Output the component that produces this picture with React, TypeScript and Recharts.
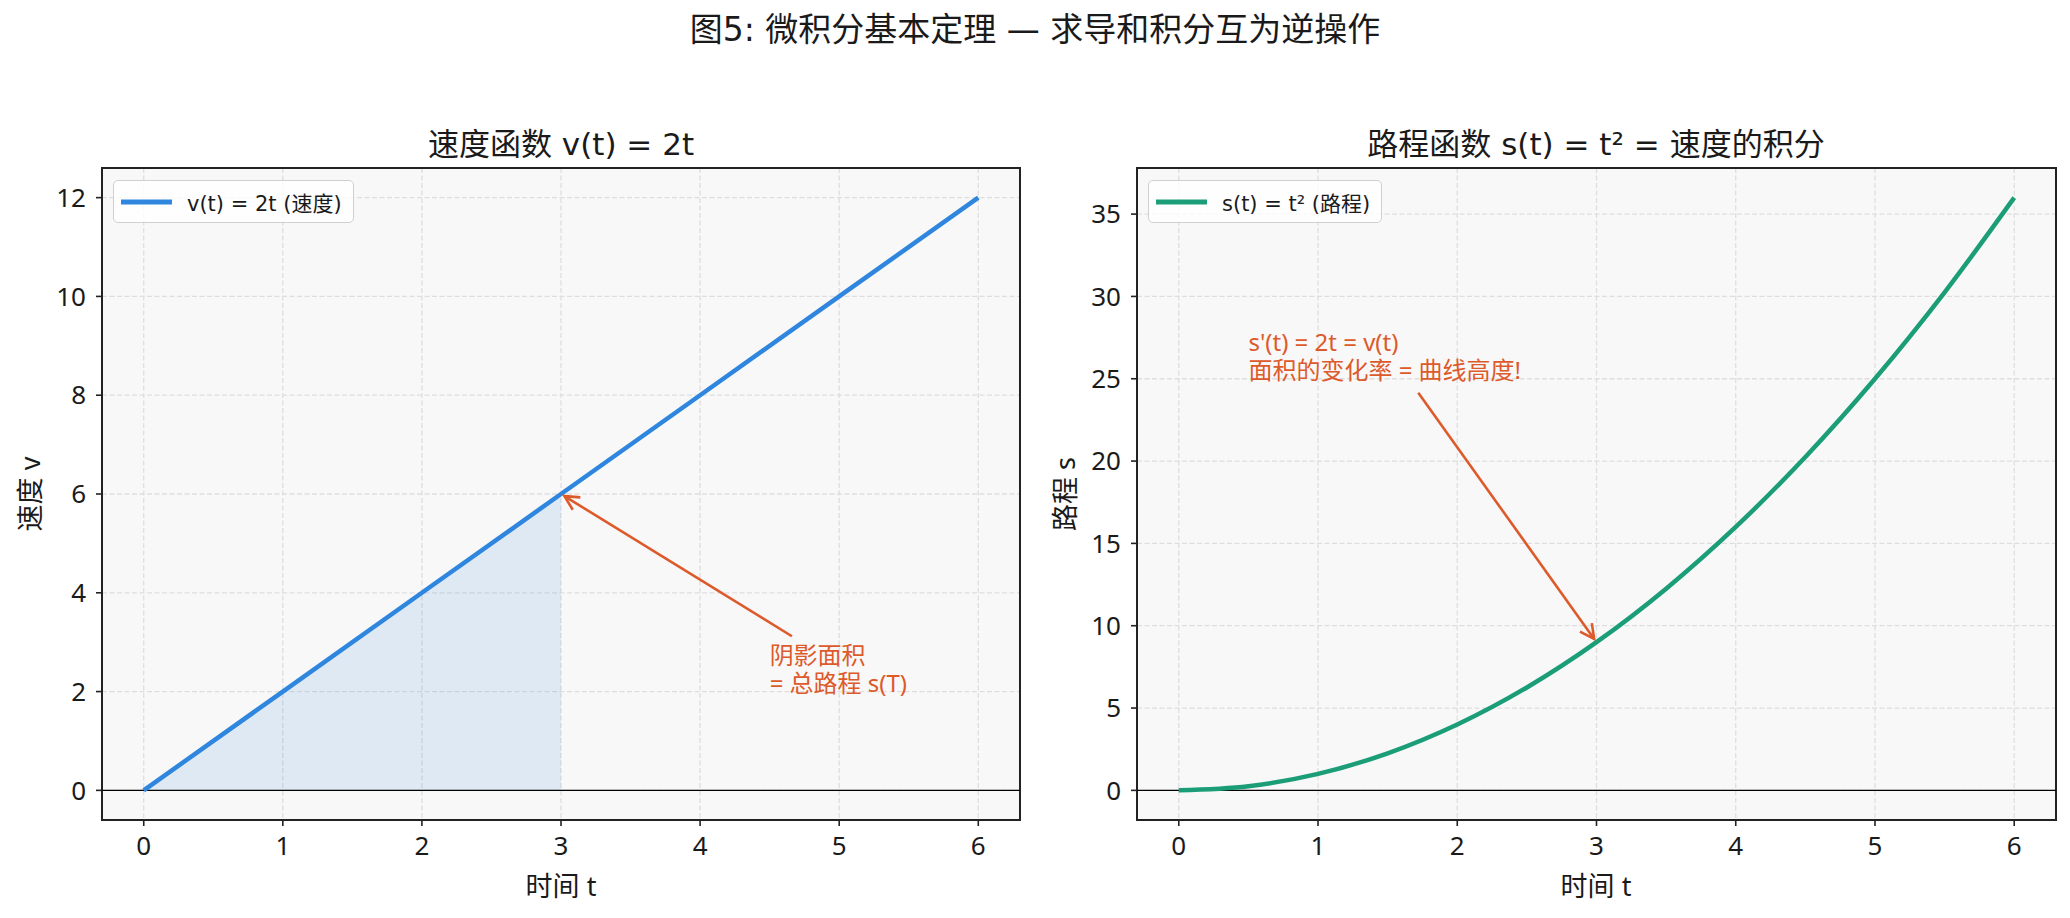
import React from 'react';
import {
  ComposedChart,
  Line,
  Area,
  XAxis,
  YAxis,
  CartesianGrid,
  ReferenceLine,
  ReferenceArea,
  ReferenceDot,
  Legend,
} from 'recharts';

// ticks
const timeTicks = [0, 1, 2, 3, 4, 5, 6];
const velocityTicks = [0, 2, 4, 6, 8, 10, 12];
const distanceTicks = [0, 5, 10, 15, 20, 25, 30, 35];

// v(t) = 2t, read at whole seconds
const velocityTimes = [0, 1, 2, 3, 4, 5, 6];
const velocityValues = [0, 2, 4, 6, 8, 10, 12];
// shaded area under v(t), t from 0 to 3
const shadedValues = [0, 2, 4, 6, null, null, null];

// s(t) = t², read every half second
const distanceTimes = [0, 0.5, 1, 1.5, 2, 2.5, 3, 3.5, 4, 4.5, 5, 5.5, 6];
const distanceValues = [0, 0.25, 1, 2.25, 4, 6.25, 9, 12.25, 16, 20.25, 25, 30.25, 36];

const velocityData = velocityTimes.map((t, i) => ({ t, v: velocityValues[i], shade: shadedValues[i] }));
const distanceData = distanceTimes.map((t, i) => ({ t, s: distanceValues[i] }));

const FONT = "'Noto Sans', 'Noto Sans CJK SC', sans-serif";
const WIDE_FONT = "'DejaVu Sans', 'Noto Sans CJK SC', sans-serif";
const BLUE = '#2E86DE';
const GREEN = '#1B9E77';
const NOTE = '#DD5A2B';
const INK = '#1a1a1a';
const EDGE = '#222222';

const W = 1035;
const H = 918;
const MARGIN = { top: 168, right: 15, left: 42, bottom: 68 };

const tickStyle = { fill: INK, fontSize: 26, fontFamily: FONT };
const tickLine = { stroke: EDGE, strokeWidth: 1.6 };

// arrow drawn from the text towards the point (matplotlib "->")
const Arrow = (props: any) => {
  const { x1, y1, x2, y2 } = props;
  const dx = x2 - x1;
  const dy = y2 - y1;
  const len = Math.hypot(dx, dy) || 1;
  const ux = dx / len;
  const uy = dy / len;
  const tx = x2 - ux * 4;
  const ty = y2 - uy * 4;
  const hl = 16;
  const a = (27 * Math.PI) / 180;
  const c = Math.cos(a);
  const s = Math.sin(a);
  const w1x = tx - hl * (c * ux - s * uy);
  const w1y = ty - hl * (c * uy + s * ux);
  const w2x = tx - hl * (c * ux + s * uy);
  const w2y = ty - hl * (c * uy - s * ux);
  return (
    <g>
      <line x1={x1} y1={y1} x2={tx} y2={ty} stroke={NOTE} strokeWidth={2.6} />
      <polyline
        points={`${w1x},${w1y} ${tx},${ty} ${w2x},${w2y}`}
        fill="none"
        stroke={NOTE}
        strokeWidth={2.6}
        strokeLinejoin="miter"
      />
    </g>
  );
};

// two-line note, last line sits on the anchor baseline
const noteShape = (lines: string[]) => (props: any) => {
  const { cx, cy } = props;
  return (
    <text x={cx} y={cy} fill={NOTE} fontSize={24} fontFamily={FONT}>
      {lines.map((ln, i) => (
        <tspan key={i} x={cx} y={cy - (lines.length - 1 - i) * 28}>
          {ln}
        </tspan>
      ))}
    </text>
  );
};

const LegendBox = (props: any) => {
  const items = (props.payload || []).filter((p: any) => p.type !== 'none');
  return (
    <div>
      {items.map((p: any) => (
        <div
          key={p.value}
          style={{
            display: 'flex',
            alignItems: 'center',
            height: 43,
            boxSizing: 'border-box',
            padding: '0 11px 0 7px',
            border: '1.5px solid #d0d0d0',
            borderRadius: 5,
            background: 'rgba(255,255,255,0.8)',
            fontFamily: WIDE_FONT,
            fontSize: 21,
            color: INK,
            whiteSpace: 'nowrap',
          }}
        >
          <svg width={51} height={6} style={{ marginRight: 15 }}>
            <line x1={0} y1={3} x2={51} y2={3} stroke={p.color} strokeWidth={5} />
          </svg>
          <span>{p.value}</span>
        </div>
      ))}
    </div>
  );
};

const legendWrap = { left: 113, top: 180, width: 'auto', height: 'auto' } as any;

const VelocityChart = () => (
  <ComposedChart width={W} height={H} data={velocityData} margin={MARGIN}>
    <CartesianGrid stroke="#dedede" strokeWidth={1.3} strokeDasharray="5 2.5" fill="#f8f8f8" />
    <XAxis
      dataKey="t"
      type="number"
      domain={[-0.3, 6.3]}
      ticks={timeTicks}
      allowDataOverflow
      axisLine={false}
      tickLine={tickLine}
      tickSize={6}
      tickMargin={11}
      tick={tickStyle}
      height={30}
    />
    <YAxis
      type="number"
      domain={[-0.6, 12.6]}
      ticks={velocityTicks}
      allowDataOverflow
      axisLine={false}
      tickLine={tickLine}
      tickSize={6}
      tickMargin={10}
      tick={tickStyle}
      width={60}
    />
    <Area
      dataKey="shade"
      type="linear"
      stroke="none"
      fill={BLUE}
      fillOpacity={0.12}
      baseValue={0}
      legendType="none"
      isAnimationActive={false}
    />
    <ReferenceLine y={0} stroke="#000" strokeWidth={1.2} />
    <Line
      dataKey="v"
      name="v(t) = 2t (速度)"
      type="linear"
      stroke={BLUE}
      strokeWidth={4.5}
      dot={false}
      activeDot={false}
      isAnimationActive={false}
    />
    <ReferenceLine
      segment={[
        { x: 4.66, y: 3.12 },
        { x: 3, y: 6 },
      ]}
      ifOverflow="visible"
      shape={Arrow}
    />
    <ReferenceDot x={4.5} y={2} r={0} ifOverflow="visible" shape={noteShape(['阴影面积', '= 总路程 s(T)'])} />
    <ReferenceArea x1={-0.3} x2={6.3} y1={-0.6} y2={12.6} fill="none" stroke={EDGE} strokeWidth={2} ifOverflow="visible" />
    <Legend layout="horizontal" verticalAlign="middle" align="center" wrapperStyle={legendWrap} content={LegendBox} />
  </ComposedChart>
);

const DistanceChart = () => (
  <ComposedChart width={W} height={H} data={distanceData} margin={{ ...MARGIN, right: 14 }}>
    <CartesianGrid stroke="#dedede" strokeWidth={1.3} strokeDasharray="5 2.5" fill="#f8f8f8" />
    <XAxis
      dataKey="t"
      type="number"
      domain={[-0.3, 6.3]}
      ticks={timeTicks}
      allowDataOverflow
      axisLine={false}
      tickLine={tickLine}
      tickSize={6}
      tickMargin={11}
      tick={tickStyle}
      height={30}
    />
    <YAxis
      type="number"
      domain={[-1.8, 37.8]}
      ticks={distanceTicks}
      allowDataOverflow
      axisLine={false}
      tickLine={tickLine}
      tickSize={6}
      tickMargin={10}
      tick={tickStyle}
      width={60}
    />
    <ReferenceLine y={0} stroke="#000" strokeWidth={1.2} />
    <Line
      dataKey="s"
      name="s(t) = t² (路程)"
      type="monotone"
      stroke={GREEN}
      strokeWidth={4.5}
      dot={false}
      activeDot={false}
      isAnimationActive={false}
    />
    <ReferenceLine
      segment={[
        { x: 1.72, y: 24.15 },
        { x: 3, y: 9 },
      ]}
      ifOverflow="visible"
      shape={Arrow}
    />
    <ReferenceDot
      x={0.5}
      y={25}
      r={0}
      ifOverflow="visible"
      shape={noteShape(["s'(t) = 2t = v(t)", '面积的变化率 = 曲线高度!'])}
    />
    <ReferenceArea x1={-0.3} x2={6.3} y1={-1.8} y2={37.8} fill="none" stroke={EDGE} strokeWidth={2} ifOverflow="visible" />
    <Legend layout="horizontal" verticalAlign="middle" align="center" wrapperStyle={legendWrap} content={LegendBox} />
  </ComposedChart>
);

export default function App() {
  return (
    <div style={{ position: 'absolute', left: 0, top: 0, width: 2070, height: 918, background: '#fff', overflow: 'hidden' }}>
      <div style={{ position: 'absolute', left: 0, top: 0 }}>
        <VelocityChart />
      </div>
      <div style={{ position: 'absolute', left: 1035, top: 0 }}>
        <DistanceChart />
      </div>
      <svg
        width={2070}
        height={918}
        style={{ position: 'absolute', left: 0, top: 0, pointerEvents: 'none' }}
        fontFamily={FONT}
        fill={INK}
      >
        <text x={1035} y={41} fontSize={33} textAnchor="middle" fontFamily={WIDE_FONT}>
          图5: 微积分基本定理 — 求导和积分互为逆操作
        </text>
        <text x={561} y={155} fontSize={31} textAnchor="middle" fontFamily={WIDE_FONT}>
          速度函数 v(t) = 2t
        </text>
        <text x={1596} y={155} fontSize={31} textAnchor="middle" fontFamily={WIDE_FONT}>
          路程函数 s(t) = t² = 速度的积分
        </text>
        <text x={561} y={896} fontSize={27} textAnchor="middle">
          时间 t
        </text>
        <text x={1596} y={896} fontSize={27} textAnchor="middle">
          时间 t
        </text>
        <text x={29} y={494} fontSize={27} textAnchor="middle" dominantBaseline="central" transform="rotate(-90 29 494)">
          速度 v
        </text>
        <text x={1064} y={494} fontSize={27} textAnchor="middle" dominantBaseline="central" transform="rotate(-90 1064 494)">
          路程 s
        </text>
      </svg>
    </div>
  );
}
